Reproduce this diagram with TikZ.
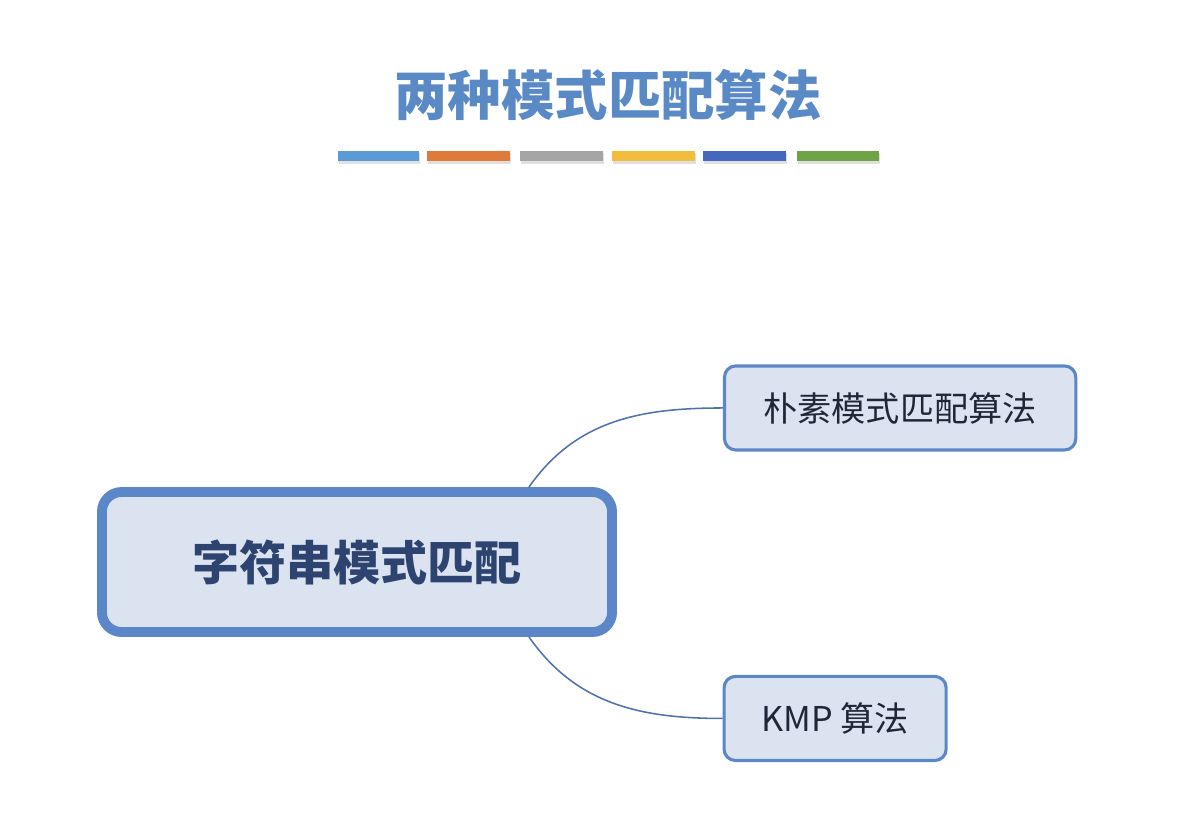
\documentclass[tikz,border=0pt]{standalone}
\usepackage{fontspec}
\setmainfont{Noto Sans CJK SC}
\usetikzlibrary{positioning}

\definecolor{titleblue}{HTML}{5A8AC6}
\definecolor{boxline}{HTML}{5B86C8}
\definecolor{boxfill}{HTML}{DCE3F0}
\definecolor{maintext}{HTML}{2E4470}
\definecolor{leaftext}{HTML}{1E2638}
\definecolor{linkblue}{HTML}{4E72AE}
\definecolor{barA}{HTML}{5B9BD5}
\definecolor{barB}{HTML}{E07A3A}
\definecolor{barC}{HTML}{A5A5A5}
\definecolor{barD}{HTML}{F2BC3C}
\definecolor{barE}{HTML}{4468BE}
\definecolor{barF}{HTML}{6FA446}

\begin{document}
\begin{tikzpicture}[x=0.025cm,y=-0.025cm,node distance=2cm,on grid,
                    every node/.style={inner sep=0pt},
                    topic/.style={draw=boxline,line width=7pt,fill=boxfill,rounded corners=14pt,
                                  minimum width=12.75cm,minimum height=3.5cm,
                                  text=maintext,font=\bfseries\fontsize{33.5}{36}\selectfont},
                    leaf/.style={draw=boxline,line width=2.2pt,fill=boxfill,rounded corners=8pt,
                                 minimum height=2.1cm,text=leaftext,font=\fontsize{24.3}{27}\selectfont},
                    link/.style={draw=linkblue,line width=1.1pt}]
  \useasboundingbox (0,0) rectangle (1204,818);

  \node[text=titleblue,font=\bfseries\fontsize{38}{42}\selectfont] (title) at (608,95) {两种模式匹配算法};

  % colour bars under the title
  \foreach \xa/\xb/\c in {338/419/barA,427/510/barB,520/603/barC,612/695/barD,703/786/barE,797/879/barF}{
    \fill[black!12] (\xa+1,153) rectangle (\xb+1,164);
    \fill[\c] (\xa,151) rectangle (\xb,161);
  }

  \node[topic]                                   (root)  at (357,562)        {字符串模式匹配};
  \node[leaf,minimum width=8.78cm]               (naive) [above right=3.85cm and 13.575cm of root] {朴素模式匹配算法};
  \node[leaf,minimum width=5.55cm]               (kmp)   [below right=3.91cm and 11.95cm of root]  {KMP 算法};

  \draw[link] ([xshift=-2.2cm]root.north east) to[out=55,in=180] (naive.west);
  \draw[link] ([xshift=-2.2cm]root.south east) to[out=-55,in=180] (kmp.west);
\end{tikzpicture}
\end{document}
